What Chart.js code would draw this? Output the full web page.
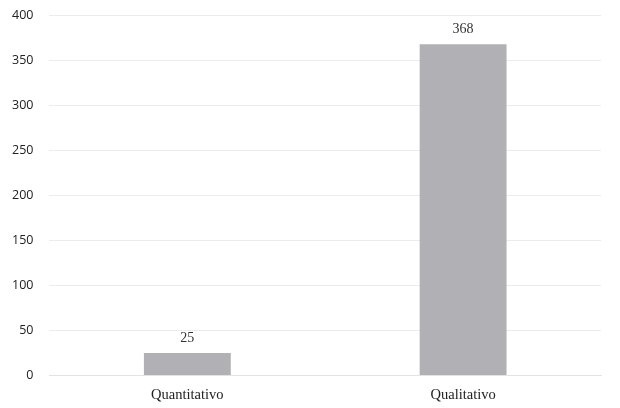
<!DOCTYPE html>
<html lang="pt">
<head>
    <meta charset="UTF-8">
    <title>Quantitativo vs Qualitativo</title>
    <script src="https://cdn.jsdelivr.net/npm/chart.js"></script>
    <style>
        html, body { margin: 0; padding: 0; background: #fff; overflow: hidden; }
        #wrap { width: 620px; height: 416px; position: relative; top: -8px; }
    </style>
</head>
<body>
    <div id="wrap"><canvas id="chart"></canvas></div>

    <script>
        const categories = ['Quantitativo', 'Qualitativo'];
        const values = [25, 368];
        const yTicks = [0, 50, 100, 150, 200, 250, 300, 350, 400];

        // draws the value above each bar
        const valueLabels = {
            id: 'valueLabels',
            afterDatasetsDraw(chart) {
                const c = chart.ctx;
                const meta = chart.getDatasetMeta(0);
                c.save();
                c.font = '14px "Liberation Serif", serif';
                c.fillStyle = '#333';
                c.textAlign = 'center';
                c.textBaseline = 'bottom';
                meta.data.forEach((bar, i) => {
                    c.fillText(values[i], bar.x, bar.y - 8);
                });
                c.restore();
            }
        };

        const ctx = document.getElementById('chart').getContext('2d');
        new Chart(ctx, {
            type: 'bar',
            data: {
                labels: categories,
                datasets: [{
                    data: values,
                    backgroundColor: '#b1b1b5',
                    barPercentage: 0.315,
                    categoryPercentage: 1
                }]
            },
            options: {
                responsive: true,
                maintainAspectRatio: false,
                animation: false,
                layout: { padding: { top: 0, right: 19, left: -4, bottom: 1 } },
                plugins: {
                    legend: { display: false },
                    tooltip: { enabled: false }
                },
                scales: {
                    x: {
                        grid: { display: false },
                        border: { color: '#e3e3e3' },
                        ticks: {
                            color: '#222',
                            font: { family: '"Liberation Serif", serif', size: 14.5 }
                        }
                    },
                    y: {
                        min: 0,
                        max: yTicks[yTicks.length - 1],
                        afterBuildTicks: axis => {
                            axis.ticks = yTicks.map(v => ({ value: v }));
                        },
                        grid: { color: '#ececec', drawTicks: false },
                        border: { display: false },
                        ticks: {
                            padding: 16,
                            color: '#222',
                            font: { family: '"Open Sans", sans-serif', size: 12.5 }
                        }
                    }
                }
            },
            plugins: [valueLabels]
        });
    </script>
</body>
</html>
